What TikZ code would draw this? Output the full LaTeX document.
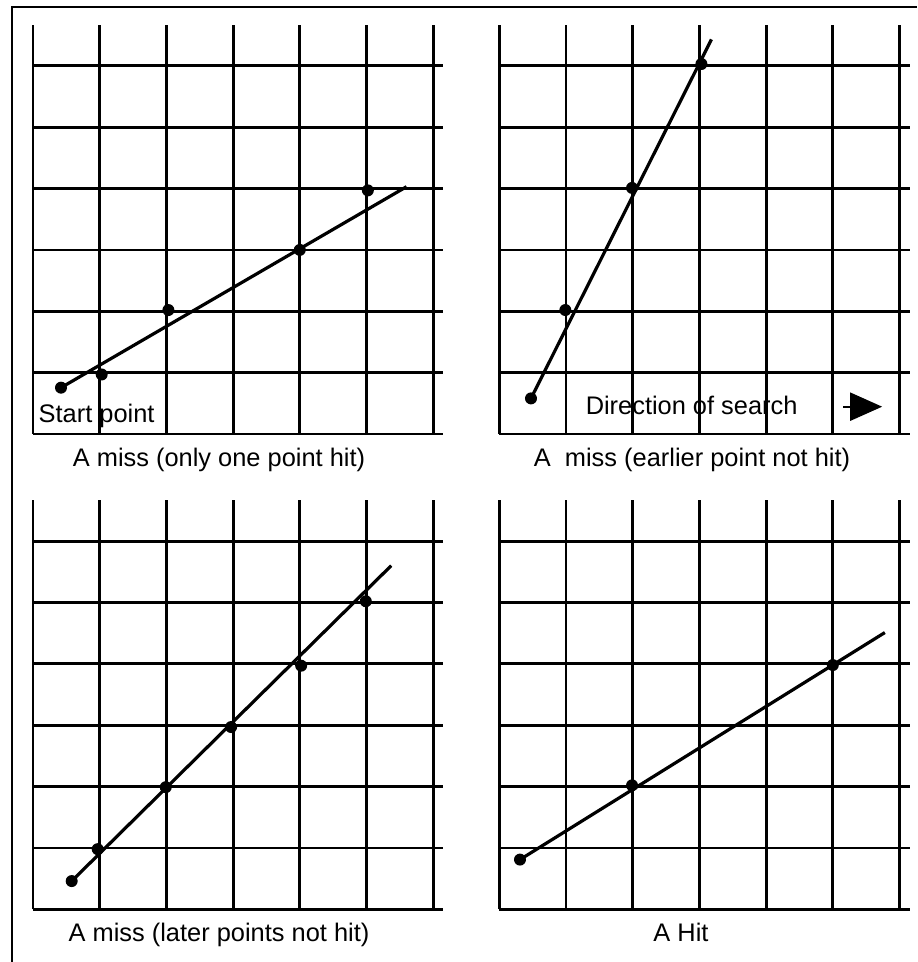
\documentclass[tikz,border=0pt]{standalone}
\usepackage{fontspec}
\setmainfont{Liberation Sans}
\usetikzlibrary{arrows.meta}

\newcommand{\searchgrid}{%
  \foreach \i in {0,...,6} {\draw[gridline] (\i,0) -- (\i,6.67);}
  \foreach \j in {0,...,6} {\draw[gridline] (0,\j) -- (6.15,\j);}
}

\begin{document}
\begin{tikzpicture}[x=0.5pt, y=0.5pt, gridline/.style = {line width=1.4pt}, dot/.style = {circle, fill, inner sep=0pt, minimum size=6pt}, searchline/.style = {line width=1.6pt}, caption/.style = {inner sep=0pt, font=\fontsize{12.7}{15}\selectfont}, cell/.style = {x=33.35pt, y=30.68pt}]
\useasboundingbox (0,0) rectangle (917,962);
\draw[line width=1.1pt] (12,0) -- (12,955) -- (917,955);

% only one point hit
\begin{scope}[shift={(33,528)}, cell]
  \searchgrid
  \node[dot] (a0) at (0.42,0.755) {};
  \node[dot] (a1) at (1.03,0.97) {};
  \node[dot] (a2) at (2.03,2.02) {};
  \node[dot] (a3) at (4,3) {};
  \node[dot] (a4) at (5.02,3.97) {};
  \coordinate (aend) at (5.6,4.03);
  \draw[searchline] (a0.center) -- (aend);
  \node[caption, anchor=base west] (start) at (0.08,0.184) {Start point};
\end{scope}

% earlier point not hit
\begin{scope}[shift={(499.3,528)}, cell]
  \searchgrid
  \node[dot] (b0) at (0.475,0.58) {};
  \node[dot] (b1) at (0.99,2.02) {};
  \node[dot] (b2) at (1.99,4.01) {};
  \node[dot] (b3) at (3.03,6.03) {};
  \coordinate (bend) at (3.18,6.43);
  \draw[searchline] (b0.center) -- (bend);
  \node[caption, anchor=base west] (direction) at (1.29,0.31) {Direction of search};
  \coordinate (dirtail) at (5.16,0.445);
  \coordinate (dirtip) at (5.74,0.445);
  \draw[line width=1.1pt, -{Triangle[length=16pt,width=14pt]}] (dirtail) -- (dirtip);
\end{scope}

% later points not hit
\begin{scope}[shift={(33,52.7)}, cell]
  \searchgrid
  \node[dot] (c0) at (0.58,0.46) {};
  \node[dot] (c1) at (0.97,0.98) {};
  \node[dot] (c2) at (1.99,1.99) {};
  \node[dot] (c3) at (2.97,2.97) {};
  \node[dot] (c4) at (4.02,3.97) {};
  \node[dot] (c5) at (4.99,5.02) {};
  \coordinate (cend) at (5.37,5.6);
  \draw[searchline] (c0.center) -- (cend);
\end{scope}

% hit
\begin{scope}[shift={(499.3,52.7)}, cell]
  \searchgrid
  \node[dot] (d0) at (0.31,0.81) {};
  \node[dot] (d1) at (1.99,2.02) {};
  \node[dot] (d2) at (5,3.98) {};
  \coordinate (dend) at (5.78,4.51);
  \draw[searchline] (d0.center) -- (dend);
\end{scope}

\node[caption, anchor=base] (cap1) at (219,495.3) {A miss (only one point hit)};
\node[caption, anchor=base] (cap2) at (692,495.3) {A~~miss (earlier point not hit)};
\node[caption, anchor=base] (cap3) at (219,20) {A miss (later points not hit)};
\node[caption, anchor=base] (cap4) at (681,20) {A Hit};
\end{tikzpicture}
\end{document}
